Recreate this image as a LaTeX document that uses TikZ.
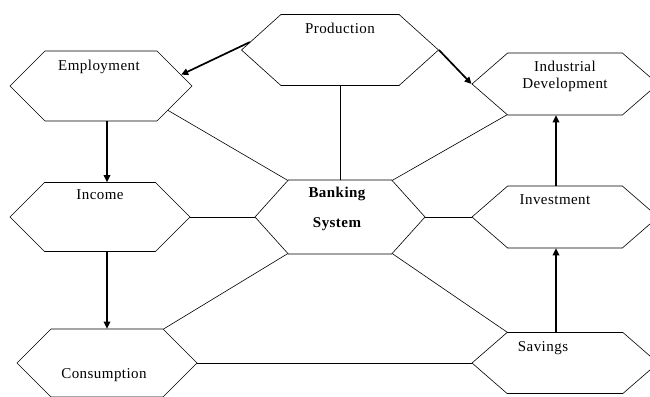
\documentclass[tikz,border=0pt]{standalone}
\usepackage{fontspec}
\setmainfont{Liberation Serif}[LetterSpace=3]
\usepackage{tikz}
\usetikzlibrary{shapes.symbols,arrows.meta}

\begin{document}
\begin{tikzpicture}[x=1pt,y=-1pt,
   hexa/.style={shape=signal, signal to=east and west, signal pointer angle=90,
                draw, line width=0.6pt, inner sep=0pt, minimum width=182pt, minimum height=70pt},
   flow/.style={-{Triangle[length=7pt,width=6.5pt]}, line width=1.7pt},
   link/.style={line width=0.6pt},
   every label/.style={font=\fontsize{15pt}{17pt}\selectfont, inner sep=0pt, align=center}]
   \useasboundingbox (0,0) rectangle (650,396);
   % left column
   \node[hexa, label={[xshift=-2pt,yshift=19pt]center:Employment}] (emp) at (101,86) {};
   \node[hexa, minimum width=180pt, minimum height=69pt, label={[yshift=22pt]center:Income}] (inc) at (100,217) {};
   \node[hexa, minimum width=180pt, minimum height=68pt, label={[xshift=-3pt,yshift=-12pt]center:Consumption}] (cons) at (107,363) {};
   % middle
   \node[hexa, minimum width=197pt, minimum height=71pt, signal pointer angle=84, label={[yshift=22pt]center:Production}] (prod) at (340,50) {};
   \node[hexa, minimum width=170pt, minimum height=74pt, signal pointer angle=96,
         label={[xshift=-3pt,yshift=8pt]center:\bfseries Banking\\[13pt]\bfseries System}] (bank) at (340,217) {};
   % right column
   \node[hexa, minimum width=186pt, minimum height=62pt, signal pointer angle=82, label={[yshift=8pt]center:Industrial\\Development}] (ind) at (565,84) {};
   \node[hexa, minimum width=186pt, minimum height=62pt, signal pointer angle=82, label={[xshift=-10pt,yshift=17pt]center:Investment}] (inv) at (565,217) {};
   \node[hexa, minimum width=186pt, minimum height=61pt, signal pointer angle=82, label={[xshift=-22pt,yshift=15pt]center:Savings}] (sav) at (565,363) {};

   % links to the banking system
   \draw[link] (emp.-20) -- (bank.145);
   \draw[link] (prod.south) -- (bank.north);
   \draw[link] (bank.35) -- (ind.208);
   \draw[link] (inc.east) -- (bank.west);
   \draw[link] (bank.east) -- (inv.west);
   \draw[link] (bank.215) -- (cons.31);
   \draw[link] (bank.-35) -- (sav.152);
   \draw[link] (cons.east) -- (sav.west);

   % flows
   \draw[flow] (prod.175) -- (emp.8);
   \draw[flow] (prod.east) -- (ind.west);
   \draw[flow] ([xshift=6pt]emp.south) -- ([xshift=7pt]inc.north);
   \draw[flow] ([xshift=7pt]inc.south) -- (cons.north);
   \draw[flow] ([xshift=-9pt]sav.north) -- ([xshift=-9pt]inv.south);
   \draw[flow] ([xshift=-9pt]inv.north) -- ([xshift=-9pt]ind.south);
\end{tikzpicture}
\end{document}
